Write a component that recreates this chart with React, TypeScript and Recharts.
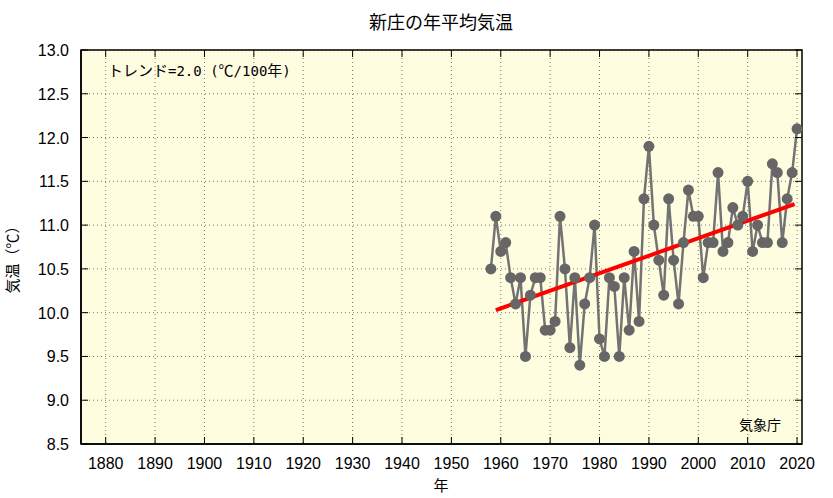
import { ComposedChart, Line, XAxis, YAxis, CartesianGrid, ReferenceLine, ReferenceArea } from 'recharts';

const years = [
  1958, 1959, 1960, 1961, 1962, 1963, 1964, 1965, 1966, 1967, 1968, 1969, 1970, 1971, 1972, 1973,
  1974, 1975, 1976, 1977, 1978, 1979, 1980, 1981, 1982, 1983, 1984, 1985, 1986, 1987, 1988, 1989,
  1990, 1991, 1992, 1993, 1994, 1995, 1996, 1997, 1998, 1999, 2000, 2001, 2002, 2003, 2004, 2005,
  2006, 2007, 2008, 2009, 2010, 2011, 2012, 2013, 2014, 2015, 2016, 2017, 2018, 2019, 2020,
];
const temps = [
  10.5, 11.1, 10.7, 10.8, 10.4, 10.1, 10.4, 9.5, 10.2, 10.4, 10.4, 9.8, 9.8, 9.9, 11.1, 10.5,
  9.6, 10.4, 9.4, 10.1, 10.4, 11.0, 9.7, 9.5, 10.4, 10.3, 9.5, 10.4, 9.8, 10.7, 9.9, 11.3,
  11.9, 11.0, 10.6, 10.2, 11.3, 10.6, 10.1, 10.8, 11.4, 11.1, 11.1, 10.4, 10.8, 10.8, 11.6, 10.7,
  10.8, 11.2, 11.0, 11.1, 11.5, 10.7, 11.0, 10.8, 10.8, 11.7, 11.6, 10.8, 11.3, 11.6, 12.1,
];
const trendYears = [1959, 2019.5];
const trendValues = [10.03, 11.24];
const xTicks = [1880, 1890, 1900, 1910, 1920, 1930, 1940, 1950, 1960, 1970, 1980, 1990, 2000, 2010, 2020];
const yTicks = [8.5, 9.0, 9.5, 10.0, 10.5, 11.0, 11.5, 12.0, 12.5, 13.0];

const data = years.map((year, i) => ({ year, temp: temps[i] }));

const W = 833;
const H = 498;
const PLOT_TOP = 50;
const PLOT_LEFT = 81;
const PLOT_RIGHT = 802;
const PLOT_BOTTOM = 444;
const labelFont = '"Liberation Sans", Arial, sans-serif';
const jpFont = '"Noto Sans CJK JP", sans-serif';
const monoFont = '"DejaVu Sans Mono", monospace';

function XTick({ x, y, payload }: any) {
  return (
    <g>
      <line x1={x} x2={x} y1={PLOT_BOTTOM} y2={PLOT_BOTTOM - 7} stroke="#000" strokeWidth={1} />
      <line x1={x} x2={x} y1={PLOT_TOP} y2={PLOT_TOP + 7} stroke="#000" strokeWidth={1} />
      <text x={x} y={y + 23} textAnchor="middle" fontSize={16} fontFamily={labelFont} fill="#000">
        {payload.value}
      </text>
    </g>
  );
}

function YTick({ x, y, payload }: any) {
  return (
    <g>
      <line x1={PLOT_LEFT} x2={PLOT_LEFT + 7} y1={y} y2={y} stroke="#000" strokeWidth={1} />
      <line x1={PLOT_RIGHT} x2={PLOT_RIGHT - 7} y1={y} y2={y} stroke="#000" strokeWidth={1} />
      <text x={x - 10} y={y + 6} textAnchor="end" fontSize={16} fontFamily={labelFont} fill="#000">
        {payload.value.toFixed(1)}
      </text>
    </g>
  );
}

export default function App() {
  return (
    <div style={{ position: 'absolute', left: 0, top: 0, width: W, height: H, background: '#fff' }}>
      <ComposedChart
        width={W}
        height={H}
        data={data}
        margin={{ top: PLOT_TOP, right: W - PLOT_RIGHT, bottom: 0, left: 0 }}
      >
        <CartesianGrid
          fill="#fffde0"
          stroke="#777"
          strokeDasharray="1 3"
          verticalValues={xTicks}
          horizontalValues={yTicks}
        />
        <XAxis
          dataKey="year"
          type="number"
          domain={[1875, 2021]}
          ticks={xTicks}
          interval={0}
          height={H - PLOT_BOTTOM}
          tickSize={0}
          tickLine={false}
          axisLine={{ stroke: '#000', strokeWidth: 1.5 }}
          tick={<XTick />}
        />
        <YAxis
          type="number"
          domain={[8.5, 13]}
          ticks={yTicks}
          interval={0}
          width={PLOT_LEFT}
          tickSize={0}
          tickLine={false}
          axisLine={{ stroke: '#000', strokeWidth: 1.5 }}
          tick={<YTick />}
        />
        <ReferenceArea
          x1={1875}
          x2={2021}
          y1={8.5}
          y2={13}
          fill="none"
          fillOpacity={0}
          stroke="#000"
          strokeWidth={1.5}
          ifOverflow="visible"
        />
        <Line
          dataKey="temp"
          stroke="#737373"
          strokeWidth={2.5}
          dot={{ r: 5.5, fill: '#666', stroke: '#666', strokeWidth: 0 }}
          isAnimationActive={false}
        />
        <ReferenceLine
          segment={[
            { x: trendYears[0], y: trendValues[0] },
            { x: trendYears[1], y: trendValues[1] },
          ]}
          stroke="#ff0000"
          strokeWidth={4}
        />
        <text x={441} y={29} textAnchor="middle" fontSize={18} fontFamily={jpFont} fill="#000">
          新庄の年平均気温
        </text>
        <text x={108} y={76} fill="#000">
          <tspan fontSize={15} fontFamily={jpFont}>トレンド</tspan>
          <tspan fontSize={14} fontFamily={monoFont}>=2.0 (</tspan>
          <tspan fontSize={15} fontFamily={jpFont}>℃</tspan>
          <tspan fontSize={14} fontFamily={monoFont}>/100</tspan>
          <tspan fontSize={15} fontFamily={jpFont}>年</tspan>
          <tspan fontSize={14} fontFamily={monoFont}>)</tspan>
        </text>
        <text x={781} y={430} textAnchor="end" fontSize={14} fontFamily={jpFont} fill="#000">
          気象庁
        </text>
        <text x={441} y={491} textAnchor="middle" fontSize={15} fontFamily={jpFont} fill="#000">
          年
        </text>
        <text
          x={18}
          y={256}
          textAnchor="middle"
          fontSize={15}
          fontFamily={jpFont}
          fill="#000"
          transform="rotate(-90 18 256)"
        >
          気温（℃）
        </text>
      </ComposedChart>
    </div>
  );
}
